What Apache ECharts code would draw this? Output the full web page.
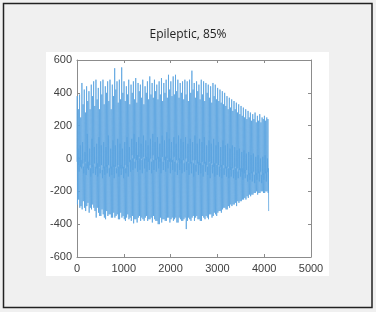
<!DOCTYPE html>
<html><head><meta charset="utf-8">
<script src="https://cdn.jsdelivr.net/npm/echarts@6/dist/echarts.min.js"></script>
<style>html,body{margin:0;padding:0;background:#f0f0f0}#c{width:376px;height:312px}</style>
</head><body><div id="c"></div>
<script>
const titleText = 'Epileptic, 85%';
const sampleStep = 5;
const xTicks = [0, 1000, 2000, 3000, 4000, 5000];
const yTicks = [-600, -400, -200, 0, 200, 400, 600];
const signal = [
-20,380,-280,-30,60,-40,300,-250,10,-80,
-30,390,-300,-20,80,-50,250,-290,-10,-60,
-20,460,-310,-40,100,-30,330,-260,-50,-90,
-40,420,-300,-60,40,-20,280,-320,-30,-100,
-50,440,-290,-40,150,-60,350,-270,-20,-70,
-30,410,-330,-50,60,-40,300,-300,-60,-110,
-60,450,-310,-30,120,-50,380,-280,-40,-90,
-40,470,-300,-60,70,-30,320,-320,-50,-100,
-50,480,-360,-40,90,-60,360,-300,-30,-110,
-40,430,-330,-70,130,-50,300,-350,-60,-90,
-60,470,-350,-50,80,-40,390,-310,-70,-120,
-50,480,-340,-40,100,-60,330,-360,-50,-100,
-40,440,-370,-60,70,-50,400,-320,-40,-90,
-60,470,-350,-50,140,-40,350,-340,-60,-110,
-50,480,-340,-70,60,-60,300,-360,-50,-100,
-40,450,-360,-50,110,-50,380,-330,-40,-120,
-60,550,-360,-40,80,-50,420,-350,-60,-90,
-50,470,-340,-60,120,-40,340,-370,-50,-110,
-40,480,-370,-50,90,-60,360,-330,-40,-100,
-50,555,-360,-40,60,-60,400,-350,-50,-120,
-50,470,-370,-60,100,-40,350,-380,-60,-90,
-60,440,-360,-50,130,-50,390,-340,-40,-110,
-40,480,-370,-30,70,-20,330,-360,-10,-80,
0,450,-380,-10,120,20,400,-350,0,-70,
-10,470,-395,10,150,0,360,-370,-20,-60,
10,490,-370,0,100,-10,340,-390,20,-80,
0,460,-360,-10,130,10,410,-350,0,-70,
-20,450,-380,10,90,0,370,-360,-10,-90,
0,480,-370,-10,140,10,330,-380,0,-60,
-20,440,-360,0,110,-10,400,-350,10,-80,
0,470,-380,10,80,-20,360,-370,0,-70,
-10,500,-370,-10,120,0,390,-360,-20,-90,
-10,460,-390,0,150,20,370,-350,-10,-70,
0,480,-370,-20,100,-10,410,-380,0,-80,
-20,450,-380,-10,130,0,360,-400,10,-60,
-10,470,-400,10,90,-20,390,-360,0,-90,
0,490,-390,-10,140,10,350,-370,-20,-70,
-20,460,-370,0,110,-10,400,-380,10,-80,
-10,480,-380,-20,160,0,370,-360,-10,-60,
0,510,-360,10,120,-20,420,-390,0,-90,
-10,470,-370,-30,100,-20,380,-360,-10,-70,
0,500,-380,0,130,10,390,-370,-20,-80,
10,510,-360,-20,90,-10,410,-390,-30,-100,
-20,480,-390,-30,140,-10,370,-360,0,-70,
-20,460,-370,0,120,-30,400,-380,-10,-90,
0,470,-380,-20,100,-10,360,-370,-30,-80,
-20,480,-360,-10,130,0,390,-430,-20,-70,
-30,470,-380,-10,90,-20,350,-360,-30,-100,
-10,480,-370,-20,120,-30,400,-380,-20,-90,
-20,535,-360,-20,100,-10,420,-350,-30,-110,
-20,460,-380,-30,140,-10,370,-360,-40,-80,
-10,470,-350,-40,90,-30,410,-370,-20,-100,
-30,450,-370,-20,120,-40,360,-380,-30,-90,
-40,480,-380,-30,100,-20,390,-350,-40,-110,
-20,470,-360,-40,130,-30,350,-370,-20,-80,
-30,460,-350,-20,80,-40,400,-360,-50,-100,
-40,450,-370,-30,110,-20,370,-340,-30,-120,
-20,440,-340,-50,90,-30,340,-360,-40,-90,
-30,460,-350,-40,120,-50,380,-330,-30,-110,
-40,450,-340,-50,80,-30,360,-350,-40,-100,
-50,430,-330,-40,100,-40,350,-320,-50,-110,
-30,420,-320,-60,70,-50,340,-330,-40,-120,
-60,410,-310,-50,110,-40,330,-300,-60,-100,
-50,400,-300,-40,80,-60,320,-310,-50,-110,
-40,380,-310,-60,90,-50,300,-290,-60,-120,
-60,370,-300,-70,60,-70,310,-280,-50,-110,
-50,360,-290,-60,80,-60,290,-280,-70,-120,
-60,350,-280,-70,70,-50,300,-270,-60,-130,
-70,340,-290,-50,50,-60,280,-260,-80,-120,
-60,330,-270,-70,60,-70,270,-260,-60,-110,
-60,320,-260,-70,40,-80,260,-250,-60,-130,
-70,310,-250,-80,50,-90,250,-240,-70,-120,
-80,300,-250,-90,30,-70,240,-230,-100,-140,
-90,290,-240,-80,40,-100,250,-220,-90,-130,
-80,280,-230,-100,20,-90,230,-220,-80,-140,
-100,270,-220,-90,30,-80,240,-210,-100,-150,
-90,280,-210,-80,10,-100,220,-200,-90,-130,
-80,260,-220,-100,20,-90,230,-210,-80,-140,
-100,270,-210,-90,0,-80,220,-200,-100,-150,
-90,250,-200,-80,10,-100,240,-210,-90,-130,
-80,260,-210,-100,20,-90,230,-200,-80,-140,
-100,250,-200,-90,0,-80,240,-210,-60,-320
];
const seriesData = signal.map((v, i) => [i * sampleStep, v]);
const axisColor = '#8c8c8c';
const labelStyle = {color: '#404040', fontFamily: 'Liberation Sans, Arial, sans-serif', fontSize: 11};
const chart = echarts.init(document.getElementById('c'), null, {renderer: 'canvas'});
chart.setOption({
  backgroundColor: '#f0f0f0',
  animation: false,
  title: {text: titleText, left: 'center', top: 24, textStyle: {fontFamily: 'Open Sans, sans-serif', fontWeight: 'normal', fontSize: 12, color: '#222'}},
  graphic: [
    {type: 'rect', z: -10, shape: {x: 3.5, y: 3.5, width: 368.5, height: 304}, style: {fill: '#f0f0f0', stroke: '#222', lineWidth: 1.5}},
    {type: 'rect', z: -9, shape: {x: 46, y: 52, width: 283, height: 224}, style: {fill: '#ffffff', stroke: null}}
  ],
  grid: {left: 77, top: 60, width: 234, height: 197, containLabel: false},
  xAxis: [
    {type: 'value', min: 0, max: 5000, interval: 1000, position: 'bottom',
     axisLine: {show: true, onZero: false, lineStyle: {color: axisColor, width: 1}},
     axisTick: {show: true, inside: true, length: 3, lineStyle: {color: axisColor}},
     axisLabel: Object.assign({margin: 6, formatter: v => xTicks.includes(v) ? String(v) : ''}, labelStyle),
     splitLine: {show: false}},
    {type: 'value', min: 0, max: 5000, interval: 1000, position: 'top',
     axisLine: {show: true, onZero: false, lineStyle: {color: axisColor, width: 1}},
     axisTick: {show: true, inside: true, length: 3, lineStyle: {color: axisColor}},
     axisLabel: {show: false}, splitLine: {show: false}}
  ],
  yAxis: [
    {type: 'value', min: -600, max: 600, interval: 200, position: 'left',
     axisLine: {show: true, onZero: false, lineStyle: {color: axisColor, width: 1}},
     axisTick: {show: true, inside: true, length: 3, lineStyle: {color: axisColor}},
     axisLabel: Object.assign({margin: 5, formatter: v => yTicks.includes(v) ? String(v) : ''}, labelStyle),
     splitLine: {show: false}},
    {type: 'value', min: -600, max: 600, interval: 200, position: 'right',
     axisLine: {show: true, onZero: false, lineStyle: {color: axisColor, width: 1}},
     axisTick: {show: true, inside: true, length: 3, lineStyle: {color: axisColor}},
     axisLabel: {show: false}, splitLine: {show: false}}
  ],
  series: [{
    type: 'line', xAxisIndex: 0, yAxisIndex: 0, data: seriesData, showSymbol: false, symbol: 'none',
    sampling: null, lineStyle: {color: '#5aa3df', width: 0.8}
  }]
});
</script></body></html>
